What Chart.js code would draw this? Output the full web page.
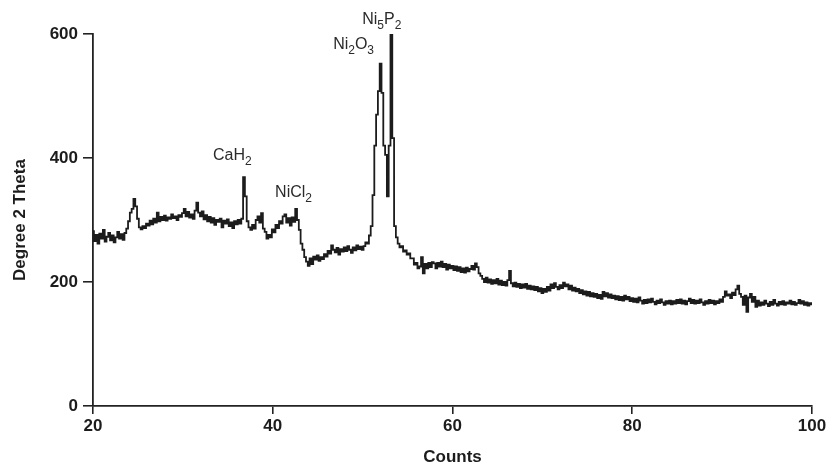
<!DOCTYPE html>
<html>
<head>
<meta charset="utf-8">
<script src="https://cdn.jsdelivr.net/npm/chart.js@4"></script>
<style>
  html, body { margin: 0; padding: 0; background: #fff; }
  #wrap { position: relative; width: 829px; height: 470px; }
</style>
</head>
<body>
<div id="wrap"><canvas id="xrd"></canvas></div>
<script>
// scan settings (2θ start and step of the diffractometer)
const scanStart = 20;
const scanStep = 0.2;

// intensity per step, 20.0 ... 100.0
const counts = [
  282, 266, 276, 262, 278, 270, 284, 265, 273, 279,
  267, 275, 264, 272, 281, 270, 277, 268, 279, 286,
  298, 312, 318, 334, 322, 302, 288, 285, 290, 287,
  294, 291, 299, 293, 302, 296, 312, 298, 305, 300,
  307, 299, 304, 302, 309, 303, 306, 300, 308, 305,
  311, 318, 306, 313, 304, 309, 302, 315, 328, 312,
  306, 314, 301, 308, 298, 305, 296, 303, 292, 300,
  297, 302, 288, 299, 294, 301, 290, 296, 287, 298,
  293, 300, 294, 302, 369, 338, 298, 288, 284, 292,
  286, 300, 306, 296, 311, 286, 281, 270, 276, 272,
  285, 280, 292, 287, 298, 294, 306, 309, 296, 303,
  291, 304, 297, 318, 300, 284, 262, 252, 240, 233,
  226, 238, 229, 241, 236, 243, 234, 240, 237, 245,
  241, 250, 246, 259, 252, 248, 255, 244, 253, 249,
  256, 250, 258, 252, 247, 256, 251, 259, 253, 257,
  252, 258, 264, 262, 275, 290, 340, 420, 470, 508,
  552, 505, 420, 405, 338, 420, 602, 432, 290, 272,
  262, 256, 258, 249, 251, 244, 246, 238, 238, 228,
  231, 222, 225, 240, 214, 229, 222, 231, 224, 232,
  230, 222, 231, 225, 233, 224, 229, 220, 228, 222,
  226, 219, 225, 218, 224, 216, 222, 215, 223, 217,
  221, 226, 220, 230, 224, 214, 210, 205, 200, 207,
  199, 204, 197, 203, 198, 205, 196, 202, 195, 200,
  194, 203, 218, 198, 193, 199, 192, 197, 190, 196,
  191, 197, 189, 194, 188, 193, 187, 192, 185, 190,
  182, 189, 184, 192, 186, 196, 190, 198, 192, 188,
  195, 190, 199, 193, 196, 188, 194, 186, 191, 185,
  189, 182, 187, 180, 185, 178, 184, 177, 182, 176,
  181, 174, 179, 173, 184, 177, 182, 175, 180, 174,
  178, 172, 177, 171, 176, 170, 178, 172, 176, 169,
  174, 168, 173, 167, 175, 170, 165, 171, 166, 172,
  167, 173, 168, 164, 170, 166, 172, 167, 163, 169,
  165, 170, 164, 169, 165, 171, 166, 172, 165, 170,
  164, 169, 173, 166, 171, 165, 170, 166, 172, 167,
  163, 169, 165, 171, 166, 170, 164, 169, 166, 172,
  168, 176, 185, 178, 180, 174, 183, 179, 188, 194,
  181, 176, 163, 178, 152, 175, 181, 168, 176, 160,
  170, 162, 167, 163, 170, 165, 161, 168, 163, 171,
  165, 162, 168, 164, 169, 163, 167, 165, 170, 164,
  168, 163, 166, 171, 165, 169, 163, 167, 162, 166,
  164
];

const twoTheta = counts.map((_, i) => +(scanStart + i * scanStep).toFixed(1));

const xTicks = [20, 40, 60, 80, 100];
const yTicks = [0, 200, 400, 600];

// phase labels; digits are drawn as subscripts
const phaseNames = ['CaH2', 'NiCl2', 'Ni2O3', 'Ni5P2'];
const phaseAt = [[33.35, 397], [40.26, 337], [46.72, 576], [49.95, 616]];

const FONT = "'Liberation Sans', Arial, Helvetica, sans-serif";
const INK = '#1c1c1c';

const phaseLabels = {
  id: 'phaseLabels',
  afterDatasetsDraw(chart) {
    const { ctx, scales: { x, y } } = chart;
    ctx.save();
    ctx.fillStyle = '#2a2a2a';
    ctx.textBaseline = 'alphabetic';
    ctx.textAlign = 'left';
    phaseNames.forEach((name, k) => {
      let px = x.getPixelForValue(phaseAt[k][0]);
      const py = y.getPixelForValue(phaseAt[k][1]);
      for (const ch of name) {
        const sub = /[0-9]/.test(ch);
        ctx.font = (sub ? '12px ' : '16px ') + FONT;
        ctx.fillText(ch, px, sub ? py + 5 : py);
        px += ctx.measureText(ch).width;
      }
    });
    ctx.restore();
  }
};

new Chart(document.getElementById('xrd'), {
  type: 'line',
  data: {
    datasets: [{
      data: twoTheta.map((t, i) => ({ x: t, y: counts[i] })),
      borderColor: INK,
      borderWidth: 1.8,
      pointRadius: 0,
      stepped: 'middle',
      fill: false
    }]
  },
  options: {
    responsive: true,
    maintainAspectRatio: false,
    animation: false,
    layout: { padding: { left: 0, right: 17, top: 34, bottom: 0 } },
    plugins: {
      legend: { display: false },
      tooltip: { enabled: false }
    },
    scales: {
      x: {
        type: 'linear',
        min: 20,
        max: 100,
        afterBuildTicks: s => { s.ticks = xTicks.map(v => ({ value: v })); },
        afterFit: s => { s.height = 64; },
        ticks: {
          color: INK,
          padding: 2,
          maxRotation: 0,
          font: { family: FONT, size: 17, weight: 'bold' }
        },
        grid: { drawOnChartArea: false, drawTicks: true, tickLength: 8, color: '#222', lineWidth: 1.6 },
        border: { color: '#222', width: 1.8 },
        title: {
          display: true,
          text: 'Counts',
          color: INK,
          padding: { top: 0, bottom: 2 },
          font: { family: FONT, size: 17, weight: 'bold' }
        }
      },
      y: {
        min: 0,
        max: 600,
        afterBuildTicks: s => { s.ticks = yTicks.map(v => ({ value: v })); },
        afterFit: s => { s.width = 93; },
        ticks: {
          color: INK,
          padding: 5,
          font: { family: FONT, size: 17, weight: 'bold' }
        },
        grid: { drawOnChartArea: false, drawTicks: true, tickLength: 10, color: '#222', lineWidth: 1.6 },
        border: { color: '#222', width: 1.8 },
        title: {
          display: true,
          text: 'Degree 2 Theta',
          color: INK,
          padding: { top: 10, bottom: 0 },
          font: { family: FONT, size: 17, weight: 'bold' }
        }
      }
    }
  },
  plugins: [phaseLabels]
});
</script>
</body>
</html>
